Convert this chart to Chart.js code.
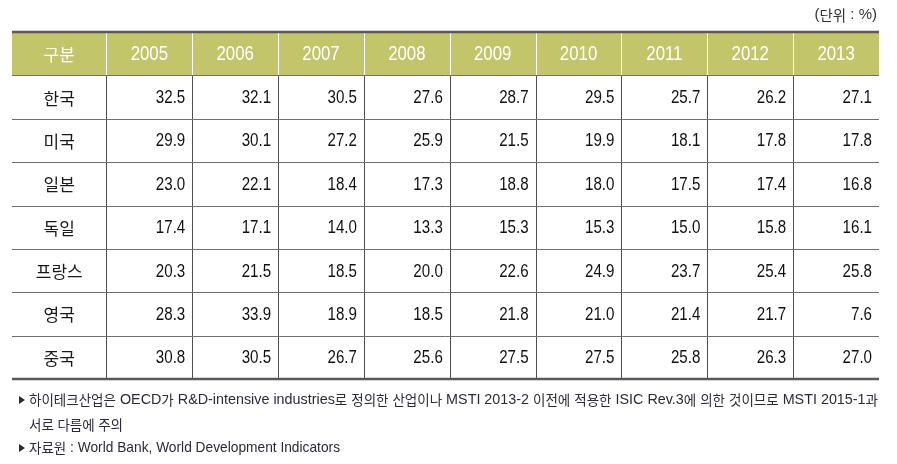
<!DOCTYPE html>
<html>
<head>
<meta charset="utf-8">
<script src="https://cdn.jsdelivr.net/npm/chart.js@4/dist/chart.umd.min.js"></script>
<style>
html,body{margin:0;padding:0;background:#fff;}
#wrap{width:897px;height:464px;position:relative;}
</style>
</head>
<body>
<div id="wrap"><canvas id="c" width="897" height="464"></canvas></div>
<script>
// ---- data ----
const headerLabel = '구분';
const years = ['2005','2006','2007','2008','2009','2010','2011','2012','2013'];
const countries = ['한국','미국','일본','독일','프랑스','영국','중국'];
const korea   = [32.5,32.1,30.5,27.6,28.7,29.5,25.7,26.2,27.1];
const usa     = [29.9,30.1,27.2,25.9,21.5,19.9,18.1,17.8,17.8];
const japan   = [23.0,22.1,18.4,17.3,18.8,18.0,17.5,17.4,16.8];
const germany = [17.4,17.1,14.0,13.3,15.3,15.3,15.0,15.8,16.1];
const france  = [20.3,21.5,18.5,20.0,22.6,24.9,23.7,25.4,25.8];
const uk      = [28.3,33.9,18.9,18.5,21.8,21.0,21.4,21.7,7.6];
const china   = [30.8,30.5,26.7,25.6,27.5,27.5,25.8,26.3,27.0];
const unitLabel = '(단위 : %)';
const noteLine1 = '하이테크산업은 OECD가 R&D-intensive industries로 정의한 산업이나 MSTI 2013-2 이전에 적용한 ISIC Rev.3에 의한 것이므로 MSTI 2015-1과';
const noteLine2 = '서로 다름에 주의';
const noteLine3 = '자료원 : World Bank, World Development Indicators';

const seriesValues = [korea, usa, japan, germany, france, uk, china];
const rowLabels = [headerLabel].concat(countries);

// ---- style ----
const HEADER_BG = '#c3c56a';
const LATIN = "'Liberation Sans', Arial, sans-serif";
const KOR = "'Noto Sans CJK KR', sans-serif";
const FIRST_COL_UNITS = 1.1;

// draw text made of Hangul runs and Latin runs; Latin runs are horizontally condensed
function drawRuns(ctx, text, x, y, o) {
  const runs = [];
  const re = /[\u1100-\u11FF\u3130-\u318F\uAC00-\uD7AF]+|[^\u1100-\u11FF\u3130-\u318F\uAC00-\uD7AF]+/g;
  let m;
  while ((m = re.exec(text)) !== null) {
    runs.push({ s: m[0], kor: /[\uAC00-\uD7AF\u1100-\u11FF\u3130-\u318F]/.test(m[0]) });
  }
  let korW = 0, latW = 0;
  runs.forEach(r => {
    ctx.font = r.kor ? (o.korSize + 'px ' + KOR) : (o.latSize + 'px ' + LATIN);
    r.w = ctx.measureText(r.s).width;
    if (r.kor) korW += r.w; else latW += r.w;
  });
  let sx = o.latScale;
  if (o.target && latW > 0) sx = (o.target - korW) / latW;
  const total = korW + latW * sx;
  let cx = x;
  if (o.align === 'right') cx = x - total;
  else if (o.align === 'center') cx = x - total / 2;
  ctx.textAlign = 'left';
  ctx.textBaseline = 'middle';
  runs.forEach(r => {
    if (r.kor) {
      ctx.font = o.korSize + 'px ' + KOR;
      ctx.fillText(r.s, cx, y);
      cx += r.w;
    } else {
      ctx.font = o.latSize + 'px ' + LATIN;
      ctx.save();
      ctx.translate(cx, y);
      ctx.scale(sx, 1);
      ctx.fillText(r.s, 0, 0);
      ctx.restore();
      cx += r.w * sx;
    }
  });
}

const tablePlugin = {
  id: 'tablePlugin',
  beforeDatasetsDraw(chart) {
    const ctx = chart.ctx;
    const xs = chart.scales.x, ys = chart.scales.y;
    const area = chart.chartArea;
    const n = rowLabels.length;
    const rowEdge = i => Math.round(ys.getPixelForValue(i - 0.5));
    const colEdge = v => Math.round(xs.getPixelForValue(v));
    ctx.save();
    const hTop = rowEdge(0), hBot = rowEdge(1);
    ctx.fillStyle = HEADER_BG;
    ctx.fillRect(area.left, hTop, area.right - area.left, hBot - hTop);
    ctx.lineWidth = 1;
    for (let i = 0; i < years.length; i++) {
      const px = colEdge(i) + 0.5;
      ctx.strokeStyle = '#ffffff';
      ctx.beginPath(); ctx.moveTo(px, hTop); ctx.lineTo(px, hBot); ctx.stroke();
      ctx.strokeStyle = '#505050';
      ctx.beginPath(); ctx.moveTo(px, hBot); ctx.lineTo(px, rowEdge(n)); ctx.stroke();
    }
    for (let r = 1; r < n; r++) {
      const py = rowEdge(r) + 0.5;
      ctx.strokeStyle = '#707070';
      ctx.beginPath(); ctx.moveTo(area.left, py); ctx.lineTo(area.right, py); ctx.stroke();
    }
    ctx.lineWidth = 2.5;
    ctx.strokeStyle = '#5a5a5a';
    [0, n].forEach(r => {
      const py = rowEdge(r);
      ctx.beginPath(); ctx.moveTo(area.left, py); ctx.lineTo(area.right, py); ctx.stroke();
    });
    ctx.restore();
  },
  afterDatasetsDraw(chart) {
    const ctx = chart.ctx;
    const xs = chart.scales.x, ys = chart.scales.y;
    const area = chart.chartArea;
    ctx.save();
    const firstColX = xs.getPixelForValue(-FIRST_COL_UNITS / 2);
    // header labels
    const hy = ys.getPixelForValue(headerLabel) + 1;
    ctx.fillStyle = '#ffffff';
    drawRuns(ctx, headerLabel, firstColX, hy, { align: 'center', korSize: 17, latSize: 20, latScale: 0.84 });
    years.forEach((yr, i) => drawRuns(ctx, yr, xs.getPixelForValue(i + 0.5), hy,
      { align: 'center', korSize: 17, latSize: 20, latScale: 0.84 }));
    // row labels
    ctx.fillStyle = '#1a1a1a';
    countries.forEach(c => drawRuns(ctx, c, firstColX, ys.getPixelForValue(c) + 1,
      { align: 'center', korSize: 17, latSize: 18, latScale: 0.84 }));
    // values
    ctx.fillStyle = '#111111';
    chart.data.datasets.forEach((ds, di) => {
      const meta = chart.getDatasetMeta(di);
      meta.data.forEach((el, j) => {
        const right = xs.getPixelForValue(ds.data[j].x + 0.5) - 7;
        drawRuns(ctx, ds.data[j].v.toFixed(1), right, el.y + 1,
          { align: 'right', korSize: 17, latSize: 18, latScale: 0.84 });
      });
    });
    // unit label
    ctx.fillStyle = '#333333';
    drawRuns(ctx, unitLabel, area.right - 2, 15, { align: 'right', korSize: 14.5, latSize: 15, latScale: 1.0 });
    // notes
    const drawTri = (x, y) => {
      ctx.beginPath(); ctx.moveTo(x, y - 4); ctx.lineTo(x + 6, y); ctx.lineTo(x, y + 4); ctx.closePath(); ctx.fill();
    };
    ctx.fillStyle = '#2a2a3a';
    const base = area.bottom;
    drawTri(19, base + 21);
    drawRuns(ctx, noteLine1, 29, base + 21, { align: 'left', korSize: 13.5, latSize: 15, target: 849 });
    drawRuns(ctx, noteLine2, 29, base + 46, { align: 'left', korSize: 13.5, latSize: 15, latScale: 0.85 });
    drawTri(19, base + 69);
    drawRuns(ctx, noteLine3, 29, base + 69, { align: 'left', korSize: 13.5, latSize: 15, target: 311 });
    ctx.restore();
  }
};

const datasets = countries.map((c, r) => ({
  label: c,
  data: seriesValues[r].map((v, i) => ({ x: i + 0.5, y: c, v: v })),
  pointRadius: 0,
  showLine: false
}));

new Chart(document.getElementById('c'), {
  type: 'scatter',
  data: { datasets: datasets },
  options: {
    responsive: false,
    animation: false,
    events: [],
    layout: { padding: { left: 12, right: 18, top: 32, bottom: 85 } },
    plugins: { legend: { display: false }, tooltip: { enabled: false } },
    scales: {
      x: { type: 'linear', min: -FIRST_COL_UNITS, max: years.length, display: false },
      y: { type: 'category', labels: rowLabels, offset: true, display: false }
    }
  },
  plugins: [tablePlugin]
});
</script>
</body>
</html>
